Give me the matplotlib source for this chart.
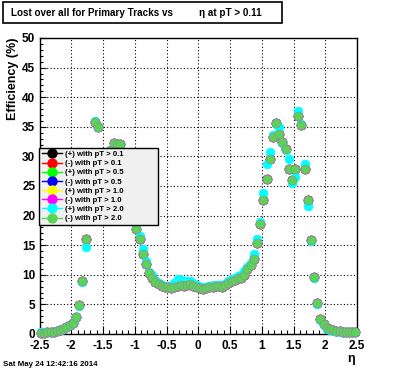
import matplotlib
matplotlib.use("Agg")
import matplotlib.pyplot as plt
from matplotlib.lines import Line2D
from matplotlib.patches import Rectangle
from matplotlib.ticker import MultipleLocator

plt.rcParams['font.family'] = ['Liberation Sans', 'DejaVu Sans']
plt.rcParams['font.weight'] = 'bold'

# bin centres in eta (100 bins, -2.5 .. 2.5)
eta = [-2.475, -2.425, -2.375, -2.325, -2.275, -2.225, -2.175, -2.125, -2.075, -2.025,
       -1.975, -1.925, -1.875, -1.825, -1.775, -1.725, -1.675, -1.625, -1.575, -1.525,
       -1.475, -1.425, -1.375, -1.325, -1.275, -1.225, -1.175, -1.125, -1.075, -1.025,
       -0.975, -0.925, -0.875, -0.825, -0.775, -0.725, -0.675, -0.625, -0.575, -0.525,
       -0.475, -0.425, -0.375, -0.325, -0.275, -0.225, -0.175, -0.125, -0.075, -0.025,
       0.025, 0.075, 0.125, 0.175, 0.225, 0.275, 0.325, 0.375, 0.425, 0.475,
       0.525, 0.575, 0.625, 0.675, 0.725, 0.775, 0.825, 0.875, 0.925, 0.975,
       1.025, 1.075, 1.125, 1.175, 1.225, 1.275, 1.325, 1.375, 1.425, 1.475,
       1.525, 1.575, 1.625, 1.675, 1.725, 1.775, 1.825, 1.875, 1.925, 1.975,
       2.025, 2.075, 2.125, 2.175, 2.225, 2.275, 2.325, 2.375, 2.425, 2.475]

# (-) with pT > 2.0 (drawn on top, the others sit underneath)
eff_neg = [0.2, 0.2, 0.3, 0.3, 0.4, 0.5, 0.6, 0.8, 1.1, 1.5,
           1.9, 2.9, 4.9, 8.9, 16.0, 22.5, 28.5, 35.8, 34.9, 30.0,
           27.0, 29.0, 31.0, 32.2, 32.1, 32.1, 30.5, 27.0, 23.0, 19.5,
           17.8, 16.0, 13.5, 11.9, 10.3, 9.5, 8.8, 8.4, 8.1, 8.0,
           7.9, 7.8, 8.0, 8.1, 8.2, 8.1, 8.3, 8.4, 8.1, 7.9,
           7.7, 7.6, 7.8, 7.9, 8.0, 8.1, 8.1, 8.0, 8.2, 8.6,
           8.9, 9.1, 9.4, 9.5, 10.0, 10.9, 11.6, 12.6, 15.4, 18.5,
           22.7, 26.2, 29.6, 33.2, 35.7, 33.8, 32.4, 31.3, 27.8, 26.0,
           27.8, 36.8, 35.3, 27.8, 22.7, 15.9, 9.7, 5.2, 2.5, 1.7,
           1.0, 0.8, 0.6, 0.5, 0.5, 0.4, 0.4, 0.4, 0.3, 0.3]

# (+) with pT > 2.0
eff_pos = [0.3, 0.3, 0.3, 0.4, 0.4, 0.5, 0.6, 0.8, 1.1, 1.5,
           1.9, 2.8, 4.8, 8.8, 14.7, 22.0, 28.0, 35.9, 35.0, 30.0,
           27.0, 29.0, 31.0, 32.0, 32.0, 32.0, 30.5, 27.0, 23.0, 20.0,
           18.2, 16.6, 14.4, 12.3, 10.5, 10.0, 9.1, 8.6, 8.3, 8.1,
           8.0, 8.1, 8.6, 9.3, 9.2, 9.0, 8.9, 9.0, 8.6, 8.3,
           8.0, 7.9, 8.0, 8.1, 8.2, 8.3, 8.3, 8.3, 8.5, 8.9,
           9.3, 9.5, 9.8, 10.0, 10.6, 11.4, 12.0, 13.5, 16.0, 19.0,
           23.9, 28.7, 30.7, 33.6, 35.4, 34.9, 32.2, 31.0, 29.6, 25.5,
           26.6, 37.6, 35.5, 28.7, 21.6, 15.7, 9.5, 5.0, 2.4, 1.6,
           0.9, 0.7, 0.5, 0.5, 0.4, 0.4, 0.4, 0.3, 0.3, 0.3]

labels = ['(+) with pT > 0.1', '(-) with pT > 0.1', '(+) with pT > 0.5', '(-) with pT > 0.5',
          '(+) with pT > 1.0', '(-) with pT > 1.0', '(+) with pT > 2.0', '(-) with pT > 2.0']
colors = ['#000000', '#ff0000', '#00ff00', '#0000ff', '#ffff00', '#ff00ff', '#00ffff', '#59d454']
# hidden series lie under the top ones
series = [eff_neg, eff_neg, eff_neg, eff_neg, eff_neg, eff_neg, eff_pos, eff_neg]

fig = plt.figure(figsize=(3.96, 3.72), dpi=100)
ax = fig.add_axes([39.5 / 396, 38 / 372, 317.5 / 396, 296 / 372])

for lab, col, vals in zip(labels, colors, series):
    ec = '#9a80a8' if col == '#59d454' else col
    ax.plot(eta, vals, 'o', color=col, markersize=6.4, markeredgecolor=ec,
            markeredgewidth=0.4, clip_on=False, label=lab, zorder=3)

ax.set_xlim(-2.5, 2.5)
ax.set_ylim(0, 50)
ax.xaxis.set_major_locator(MultipleLocator(0.5))
ax.xaxis.set_minor_locator(MultipleLocator(0.1))
ax.yaxis.set_major_locator(MultipleLocator(5))
ax.yaxis.set_minor_locator(MultipleLocator(1))
ax.set_xticks([-2.5, -2, -1.5, -1, -0.5, 0, 0.5, 1, 1.5, 2, 2.5])
ax.set_xticklabels(['-2.5', '-2', '-1.5', '-1', '-0.5', '0', '0.5', '1', '1.5', '2', '2.5'])
ax.tick_params(axis='x', which='major', direction='in', length=6, width=0.8, pad=4.5,
               labelsize=8.5, top=False)
ax.tick_params(axis='x', which='minor', direction='in', length=3, width=0.8, top=False)
ax.tick_params(axis='y', which='major', direction='in', length=4.5, width=0.8, pad=3,
               labelsize=8.5, right=False)
ax.tick_params(axis='y', which='minor', direction='in', length=2.5, width=0.8, right=False)
for t in ax.get_xticklabels() + ax.get_yticklabels():
    t.set_fontweight('bold')
ax.grid(True, which='major', color='black', linestyle=(0, (1, 2)), linewidth=0.8)
ax.set_axisbelow(True)
for sp in ax.spines.values():
    sp.set_linewidth(1.0)

ax.set_ylabel('Efficiency (%)', fontsize=9, fontweight='bold')
ax.yaxis.set_label_coords(-0.083, 1.0)
ax.yaxis.label.set_horizontalalignment('right')
ax.yaxis.label.set_verticalalignment('center')

fig.text(351 / 396, 1 - 359 / 372, 'η', fontsize=9, ha='center', va='center')

# legend (ROOT style: marker plus line)
handles = [Line2D([], [], color=c, marker='o', markersize=6.4, linewidth=1.0) for c in colors]
leg = ax.legend(handles, labels, loc='upper left',
                bbox_to_anchor=(39 / 396, 1 - 148 / 372, 119 / 396, 0.0),
                bbox_transform=fig.transFigure, mode='expand',
                prop={'weight': 'bold', 'size': 5.6}, labelspacing=0.22,
                handlelength=2.6, handletextpad=0.45, borderpad=0.35,
                borderaxespad=0, fancybox=False, framealpha=1, facecolor='#f0f0f0',
                edgecolor='black')
leg.get_frame().set_linewidth(1.0)
leg.set_zorder(5)

# title box
fig.patches.append(Rectangle((3 / 396, 1 - 23 / 372), 279 / 396, 21 / 372,
                             transform=fig.transFigure, facecolor='white',
                             edgecolor='black', linewidth=1.2))
fig.text(11 / 396, 1 - 13 / 372, 'Lost over all for Primary Tracks vs',
         fontsize=7.1, fontweight='bold', va='center', ha='left')
fig.text(199 / 396, 1 - 13 / 372, 'η at pT > 0.11',
         fontsize=7.1, fontweight='bold', va='center', ha='left')

fig.text(3 / 396, 1 - 364 / 372, 'Sat May 24 12:42:16 2014',
         fontsize=5.7, fontweight='bold', va='center', ha='left')

fig.savefig('out.png', dpi=100)
